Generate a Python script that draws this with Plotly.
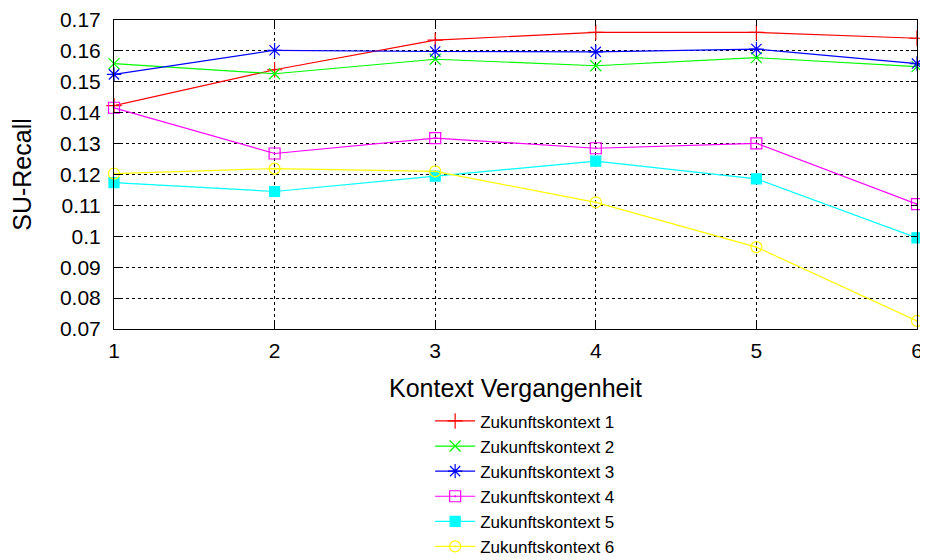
import plotly.graph_objects as go

kontext_vergangenheit = [1, 2, 3, 4, 5, 6]

zukunft_1 = [0.1423, 0.1539, 0.1635, 0.1660, 0.1660, 0.1641]
zukunft_2 = [0.1559, 0.1526, 0.1573, 0.1552, 0.1578, 0.1549]
zukunft_3 = [0.1524, 0.1602, 0.1598, 0.1597, 0.1606, 0.1559]
zukunft_4 = [0.1416, 0.1268, 0.1318, 0.1285, 0.1301, 0.1104]
zukunft_5 = [0.1174, 0.1145, 0.1195, 0.1243, 0.1186, 0.0995]
zukunft_6 = [0.1203, 0.1219, 0.1210, 0.1110, 0.0965, 0.0726]

series_names = ["Zukunftskontext 1", "Zukunftskontext 2", "Zukunftskontext 3",
                "Zukunftskontext 4", "Zukunftskontext 5", "Zukunftskontext 6"]
series_values = [zukunft_1, zukunft_2, zukunft_3, zukunft_4, zukunft_5, zukunft_6]
colors = ["#ff0000", "#00ff00", "#0000ff", "#ff00ff", "#00ffff", "#ffff00"]
symbols = ["cross-thin-open", "x-thin-open", "asterisk-open", "square-open-dot",
           "square", "circle-open-dot"]
sizes = [11, 11, 12, 11, 10, 11]

y_tickvals = [0.07, 0.08, 0.09, 0.10, 0.11, 0.12, 0.13, 0.14, 0.15, 0.16, 0.17]
y_ticktext = ["0.07", "0.08", "0.09", "0.1", "0.11", "0.12", "0.13", "0.14", "0.15", "0.16", "0.17"]
x_ticktext = ["1", "2", "3", "4", "5", "6"]

FONT = "Liberation Sans, Arial, sans-serif"

fig = go.Figure()
for name, vals, c, s, sz in zip(series_names, series_values, colors, symbols, sizes):
    fig.add_trace(go.Scatter(
        x=kontext_vergangenheit, y=vals, name=name, mode="lines+markers",
        line=dict(color=c, width=1.2),
        marker=dict(symbol=s, size=sz, color=c, line=dict(color=c, width=1.2)),
        cliponaxis=False,
    ))

# page body has an 8px margin, so the figure is sized/offset to compensate
fig.update_layout(
    width=920, height=552,
    margin=dict(l=106, r=11, t=12, b=231, autoexpand=False),
    paper_bgcolor="white", plot_bgcolor="white",
    font=dict(family=FONT, size=21, color="black"),
    showlegend=True,
    legend=dict(x=0.512, y=-0.2407, xanchor="center", yanchor="top",
                font=dict(size=17), bgcolor="rgba(0,0,0,0)",
                itemwidth=40),
)
fig.update_xaxes(
    range=[1, 6], tickvals=kontext_vergangenheit, ticktext=x_ticktext,
    showline=True, linecolor="black", linewidth=1, mirror="allticks",
    ticks="inside", ticklen=6, tickcolor="black",
    showgrid=True, gridcolor="black", gridwidth=1, griddash="dot",
    zeroline=False, automargin=False, ticklabeloverflow="allow",
    ticklabelstandoff=3,
    title=dict(text="Kontext Vergangenheit", standoff=18),
    tickfont=dict(size=21),
)
fig.update_yaxes(
    range=[0.07, 0.17], tickvals=y_tickvals, ticktext=y_ticktext,
    showline=True, linecolor="black", linewidth=1, mirror="allticks",
    ticks="inside", ticklen=6, tickcolor="black",
    showgrid=True, gridcolor="black", gridwidth=1, griddash="dot",
    zeroline=False, automargin=False, ticklabeloverflow="allow",
    ticklabelstandoff=8,
    title=dict(text="SU-Recall", standoff=35),
    tickfont=dict(size=21),
)

fig.write_html("out.html")
